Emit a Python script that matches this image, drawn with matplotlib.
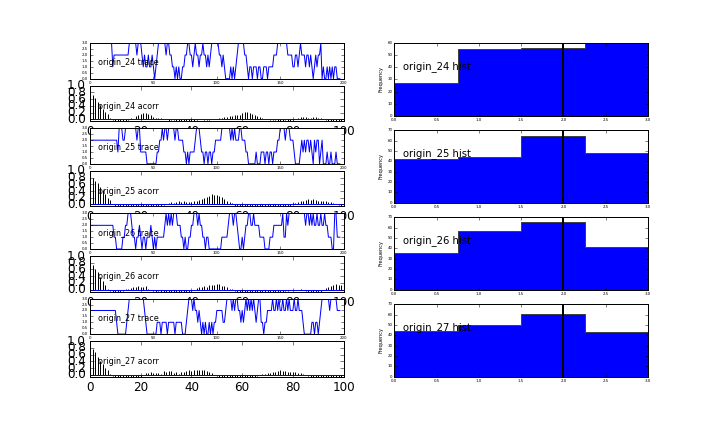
import matplotlib
matplotlib.use('Agg')
import matplotlib.pyplot as plt
import numpy as np
from matplotlib import mlab

names = ['origin_24', 'origin_25', 'origin_26', 'origin_27']

trace_24 = [3,3,3,3,3,3,3,3,3,3, 3,3,3,3,3,3,3,3,1,2, 2,2,2,2,2,2,2,2,2,2,
            2,3,3,3,3,3,3,2,3,3, 3,2,1,2,1,1,2,1,1,2, 1,0,1,2,3,3,3,3,3,3,
            2,3,3,2,2,1,1,0,1,0, 1,0,0,1,1,2,2,3,3,2, 2,1,2,3,2,2,1,2,2,3,
            2,2,1,2,1,2,3,3,3,3, 3,3,2,2,1,2,1,0,0,0, 0,1,0,1,0,1,2,3,3,3,
            3,3,2,2,1,0,1,1,0,1, 1,1,0,1,1,0,0,1,1,1, 0,1,1,1,1,2,2,2,3,3,
            3,3,3,3,3,3,2,2,2,2, 1,1,2,2,1,2,3,2,2,2, 1,2,2,1,2,1,0,1,2,1,
            2,2,3,0,1,0,0,1,0,1, 0,1,0,1,1,0,0,0]

trace_25 = [2,2,2,2,2,2,2,2,2,2, 2,2,2,2,2,2,2,2,2,2, 2,2,1,3,3,3,2,2,3,3,
            3,3,3,3,3,3,3,2,3,3, 1,1,1,1,1,0,0,0,0,0, 0,0,0,1,1,2,2,3,2,3,
            3,2,3,3,3,3,3,2,3,3, 2,2,2,2,1,1,0,1,0,1, 1,1,1,2,3,3,3,2,1,1,
            0,1,1,0,1,1,0,1,1,2, 2,2,2,2,3,3,3,3,3,3, 3,2,3,2,3,2,2,2,3,3,
            2,2,2,1,1,0,0,0,0,0, 0,1,0,0,0,1,1,1,0,1, 1,0,1,1,0,1,1,1,2,2,
            3,3,3,3,2,3,3,3,2,2, 2,1,0,0,0,0,1,2,1,2, 1,2,2,1,2,1,0,2,1,2,
            2,0,1,2,0,0,0,1,0,0, 1,0,0,0,1,0,0,0]

trace_26 = [2,2,2,2,2,2,2,2,2,2, 2,2,2,2,2,2,2,2,2,1, 1,0,0,0,0,0,1,1,2,2,
            3,3,3,2,1,1,0,1,1,2, 1,0,1,1,0,1,1,1,2,1, 0,1,0,1,1,1,1,1,1,2,
            3,2,3,2,3,2,3,3,3,2, 2,2,1,1,0,1,0,0,1,1, 2,2,3,3,3,2,3,2,2,1,
            1,0,1,1,0,0,0,0,0,0, 0,0,0,0,1,1,1,1,1,2, 3,3,3,2,3,3,2,1,0,0,
            1,0,1,2,2,3,3,2,2,3, 2,2,2,2,1,1,1,1,0,0, 0,0,1,1,1,2,2,2,2,2,
            2,2,3,1,1,3,2,3,3,3, 3,3,3,3,3,3,3,3,3,3, 2,3,3,2,3,2,3,2,2,3,
            2,2,3,2,2,3,2,2,1,1, 1,0,0,3,3,1,1,1]

trace_27 = [2,2,2,2,2,2,2,2,2,2, 2,2,2,2,2,2,2,2,2,2, 2,1,0,0,0,0,0,0,0,1,
            2,3,3,3,3,3,3,3,3,3, 3,3,3,2,1,0,0,0,0,0, 0,0,0,1,1,1,0,1,1,1,
            1,0,1,1,1,1,1,0,1,1, 1,1,1,0,0,0,1,2,3,3, 3,2,3,2,2,1,2,1,0,1,
            0,1,0,0,1,0,1,0,1,1, 2,2,2,2,2,1,1,2,3,3, 3,3,2,3,2,3,3,2,2,1,
            2,1,2,3,2,3,2,3,2,3, 2,1,2,3,3,1,1,0,1,1, 2,2,2,2,3,2,2,3,2,3,
            2,2,3,2,2,3,2,3,2,2, 2,3,2,2,3,2,2,2,1,0, 0,0,0,0,0,1,1,0,1,1,
            0,1,2,3,3,3,3,3,3,2, 3,3,3,3,3,2,2,2]

traces = [trace_24, trace_25, trace_26, trace_27]

bin_edges = [0.0, 0.75, 1.5, 2.25, 3.0]
counts_24 = [27, 55, 56, 60]
counts_25 = [42, 44, 64, 48]
counts_26 = [35, 57, 65, 41]
counts_27 = [44, 50, 61, 43]
counts = [counts_24, counts_25, counts_26, counts_27]
hist_ymax = [60, 70, 70, 70]
ref_value = 2.0

plt.style.use('classic')
plt.rcParams['figure.facecolor'] = 'white'
plt.rcParams['savefig.facecolor'] = 'white'
plt.rcParams['font.family'] = ['DejaVu Sans']

fig = plt.figure(figsize=(10, 6), dpi=72)
params = dict(left=0.125, right=0.9, top=0.9, bottom=0.128, wspace=0.2, hspace=0.2)
gs8 = fig.add_gridspec(8, 2, **params)
gs4 = fig.add_gridspec(4, 2, **params)

for i, name in enumerate(names):
    tr = np.array(traces[i], dtype=float)

    ax = fig.add_subplot(gs8[2 * i, 0])
    ax.plot(np.arange(len(tr)), tr, color='b', lw=1)
    ax.set_xlim(0, 200)
    ax.set_ylim(0, 3)
    ax.set_xticks([0, 50, 100, 150, 200])
    ax.set_yticks([0.0, 0.5, 1.0, 1.5, 2.0, 2.5, 3.0])
    ax.tick_params(labelsize=4, length=3, pad=2)
    ax.text(0.03, 0.45, f'{name} trace', transform=ax.transAxes,
            fontsize=8, va='center', ha='left')

    ax2 = fig.add_subplot(gs8[2 * i + 1, 0])
    lags, c, lc, hl = ax2.acorr(tr, detrend=mlab.detrend_mean, maxlags=100)
    lc.set_color('k')
    lc.set_linewidth(1)
    hl.set_color('b')
    ax2.set_xlim(0, 100)
    ax2.set_ylim(-0.06, 1.0)
    ax2.set_yticks([0.0, 0.2, 0.4, 0.6, 0.8, 1.0])
    ax2.set_xticks([0, 20, 40, 60, 80, 100])
    ax2.tick_params(labelsize=12, length=4, pad=4)
    ax2.text(0.03, 0.42, f'{name} acorr', transform=ax2.transAxes,
             fontsize=8, va='center', ha='left')

    ax3 = fig.add_subplot(gs4[i, 1])
    ax3.stairs(counts[i], bin_edges, fill=True, facecolor='b',
               edgecolor='0.25', lw=1)
    ax3.axvline(ref_value, color='k', lw=2)
    ax3.set_xlim(0, 3)
    ax3.set_ylim(0, hist_ymax[i])
    ax3.set_xticks([0.0, 0.5, 1.0, 1.5, 2.0, 2.5, 3.0])
    ax3.set_yticks(np.arange(0, hist_ymax[i] + 1, 10))
    ax3.tick_params(labelsize=4, length=3, pad=2)
    ax3.set_ylabel('Frequency', fontsize=5, labelpad=4)
    ax3.text(0.035, 0.68, f'{name} hist', transform=ax3.transAxes,
             fontsize=10, va='center', ha='left')

fig.savefig('out.png', dpi=72)
